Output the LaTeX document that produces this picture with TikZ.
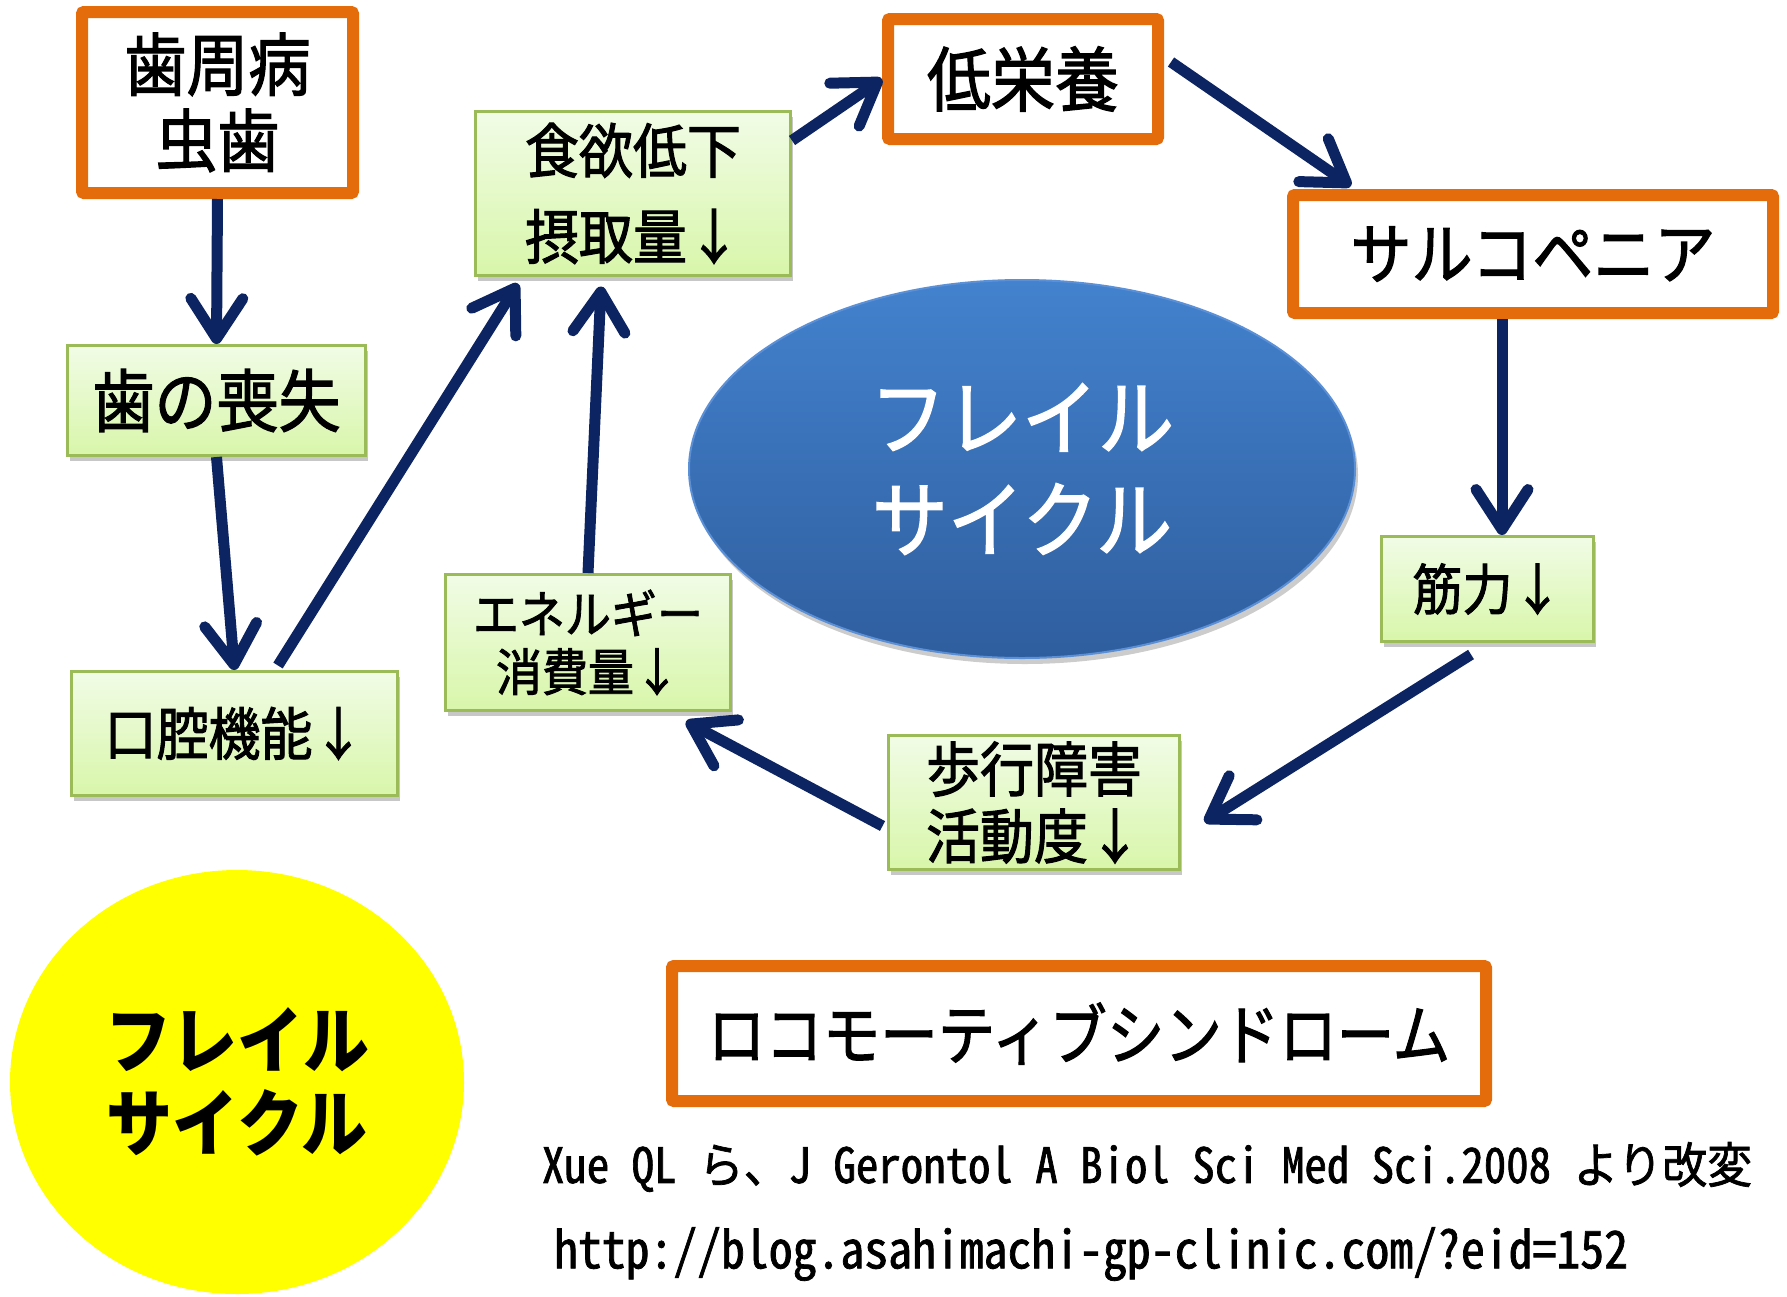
\documentclass[tikz,border=0pt]{standalone}
\usepackage{fontspec}
\usepackage{graphicx}
\usetikzlibrary{arrows.meta,shapes.geometric,shadows}
\newfontfamily\jp[FakeBold=1.8]{Noto Sans CJK JP}
\newfontfamily\jpb{Noto Sans CJK JP}
\newfontfamily\jphalf[CharacterWidth=Half,FakeBold=1.5]{Noto Sans CJK JP}
\newcommand{\vstr}[1]{\scalebox{1}[1.1]{#1}}
\definecolor{orangeb}{HTML}{E46C0A}
\definecolor{navy}{HTML}{0C2461}
\definecolor{gborder}{HTML}{9BBB59}
\definecolor{gtop}{HTML}{F1FCE6}
\definecolor{gbot}{HTML}{D8F6AA}
\definecolor{btop}{HTML}{4382CE}
\definecolor{bbot}{HTML}{2F5E9E}
\definecolor{bedge}{HTML}{5B8FD6}
\definecolor{pureyellow}{RGB}{255,255,0}
\tikzset{
  obox/.style={draw=orangeb, line width=12pt, fill=white, rounded corners=2pt, inner sep=0pt, align=center, text=black},
  gbox/.style={draw=gborder, line width=3pt, top color=gtop, bottom color=gbot, inner sep=0pt, align=center, text=black,
    drop shadow={shadow xshift=2pt, shadow yshift=-5pt, opacity=0.22, fill=black}},
  arr/.style={draw=navy, line width=11pt, -{Straight Barb[length=40pt,width=52pt,round]}},
}
\begin{document}
\begin{tikzpicture}[x=1pt,y=-1pt]
\fill[white] (0,0) rectangle (1787,1296);
\useasboundingbox (0,0) rectangle (1787,1296);

% ellipses
\node[ellipse, draw=bedge, line width=2pt, top color=btop, bottom color=bbot, minimum width=666pt, minimum height=378pt, inner sep=0pt,
  align=center, text=white, font=\jp\fontsize{76}{102}\selectfont,
  drop shadow={shadow xshift=3pt, shadow yshift=-6pt, opacity=0.2, fill=black}] (frailc) at (1022,469) {\vstr{フレイル}\\\vstr{サイクル}};
\node[ellipse, fill=pureyellow, minimum width=454pt, minimum height=424pt, inner sep=0pt, align=center, text=black,
  font=\jpb\bfseries\fontsize{66}{83}\selectfont] (fraily) at (237,1082) {\vstr{フレイル}\\\vstr{サイクル}};

% orange boxes
\node[obox, minimum width=271pt, minimum height=181pt, font=\jp\fontsize{62}{76}\selectfont] (shishu) at (217.5,102.5) {\vstr{歯周病}\\\vstr{虫歯}};
\node[obox, minimum width=270pt, minimum height=120pt, font=\jp\fontsize{64}{76}\selectfont] (teieiyo) at (1023,79) {\vstr{低栄養}};
\node[obox, minimum width=480pt, minimum height=118pt, font=\jp\fontsize{61}{76}\selectfont] (sarco) at (1533,254) {\vstr{サルコペニア}};
\node[obox, minimum width=814pt, minimum height=135pt, font=\jp\fontsize{57.5}{70}\selectfont] (locomo) at (1079,1033.5) {\scalebox{1}[1.15]{ロコモーティブシンドローム}};

% green boxes
\node[gbox, minimum width=298pt, minimum height=110pt, font=\jp\fontsize{62}{76}\selectfont] (soshitsu) at (216.5,400.5) {\vstr{歯の喪失}};
\node[gbox, minimum width=326pt, minimum height=124pt, font=\jp\fontsize{52}{64}\selectfont] (koku) at (234.5,733.5) {\vstr{口腔機能↓}};
\node[gbox, minimum width=315pt, minimum height=164pt, font=\jp\fontsize{54}{86}\selectfont] (shokuyoku) at (633,193.5) {\vstr{食欲低下}\\\vstr{摂取量↓}};
\node[gbox, minimum width=285pt, minimum height=136pt, font=\jp\fontsize{46}{58}\selectfont] (energy) at (588,642.5) {\vstr{エネルギー}\\\vstr{消費量↓}};
\node[gbox, minimum width=212pt, minimum height=105pt, font=\jp\fontsize{50}{62}\selectfont] (kinryoku) at (1487.5,589) {\vstr{筋力↓}};
\node[gbox, minimum width=291pt, minimum height=134pt, font=\jp\fontsize{54}{67}\selectfont] (hoko) at (1034,802.5) {\vstr{歩行障害}\\\vstr{活動度↓}};

% citation
\node[inner sep=0pt, font=\jphalf\fontsize{45}{54}\selectfont] (cite) at (1147,1167)
  {\resizebox{1210pt}{1.08\height}{Xue QL ら、J Gerontol A Biol Sci Med Sci.2008 より改変}};
\node[inner sep=0pt, font=\jphalf\fontsize{48}{58}\selectfont] (url) at (1091,1254)
  {\resizebox{1074pt}{1.08\height}{http://blog.asahimachi-gp-clinic.com/?eid=152}};

% arrows
\draw[arr] (shishu.south) -- (soshitsu.north);
\draw[arr] (soshitsu.south) -- (koku.north);
\draw[arr] ([xshift=43.5pt,yshift=4.5pt]koku.north) -- ([xshift=-115pt,yshift=-6.5pt]shokuyoku.south);
\draw[arr] (energy.north) -- ([xshift=-32pt,yshift=-9.5pt]shokuyoku.south);
\draw[arr] ([yshift=53pt]shokuyoku.east) -- (teieiyo.west);
\draw[arr] ([xshift=7pt,yshift=17pt]teieiyo.east) -- ([xshift=-182pt,yshift=3pt]sarco.north);
\draw[arr] ([xshift=-31pt]sarco.south) -- ([xshift=14.5pt]kinryoku.north);
\draw[arr] ([xshift=-16.5pt,yshift=-11.5pt]kinryoku.south) -- ([xshift=23.5pt,yshift=-19.5pt]hoko.east);
\draw[arr] ([xshift=-4.5pt,yshift=-23.5pt]hoko.west) -- ([xshift=98pt,yshift=-9.5pt]energy.south);
\end{tikzpicture}
\end{document}
